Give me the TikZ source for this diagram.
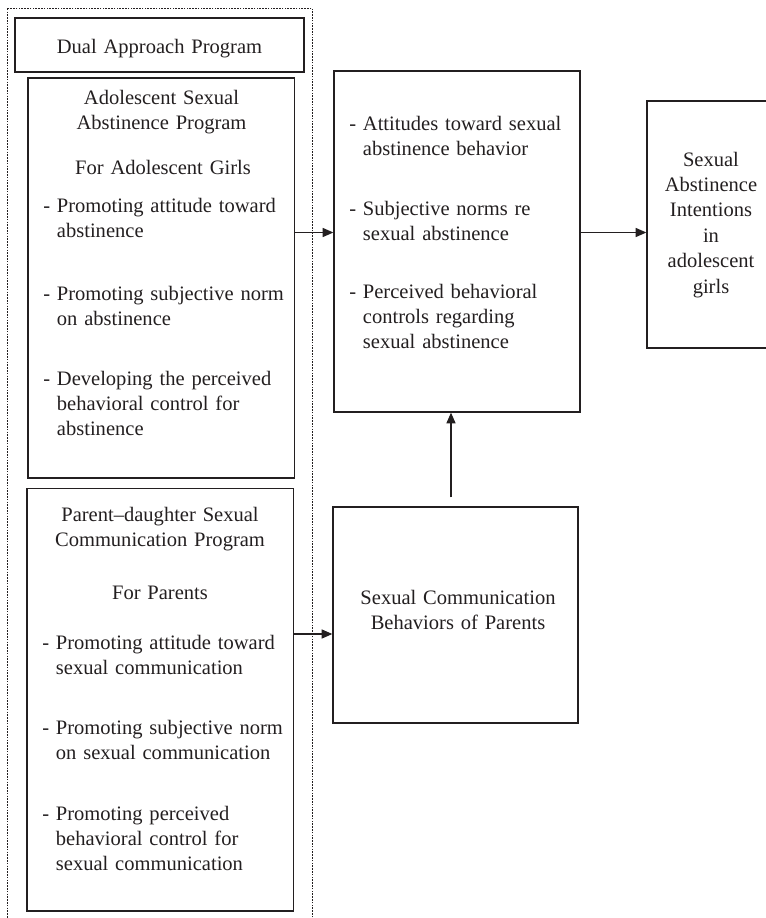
\documentclass[tikz,border=0pt]{standalone}
\usepackage{fontspec}
\setmainfont{Liberation Serif}
\usetikzlibrary{arrows.meta,fit}
\definecolor{ink}{RGB}{35,31,32}
\newcommand\diafont{\fontsize{15.4pt}{19.1pt}\selectfont}
\newcommand\ind{\hphantom{- }}
\begin{document}
\begin{tikzpicture}[x=0.75pt,y=-0.75pt,
  box/.style={draw=ink,line width=1pt,rectangle,inner sep=0pt},
  arr/.style={draw=ink,line width=0.8pt,-{Triangle[length=8pt,width=6.8pt]}},
  tl/.style={font=\diafont,text=ink,inner sep=0pt,text width=260pt,align=left,anchor=base west},
  tc/.style={font=\diafont,text=ink,inner sep=0pt,text width=200pt,align=center,anchor=base},
  dots/.style={draw=ink,line width=0.5pt,dash pattern=on 1.2pt off 0.9pt}]
\useasboundingbox[fill=white] (0,0) rectangle (765,918);

% outer dotted container (open at bottom edge of the picture)
\node[dots,rectangle,inner sep=0pt,fit={(7,8) (312,940)}] (outer) {};

% boxes
\node[box,fit={(15,18) (304,72)}] (dual) {};
\node[box,fit={(28,78) (294.5,478)}] (adol) {};
\node[box,fit={(27,488.5) (293.5,911)}] (par) {};
\node[box,fit={(334,71) (580,412)}] (mid) {};
\node[box,fit={(647,101) (780,348)}] (intent) {};
\node[box,fit={(333,507) (578,723)}] (beh) {};

% texts
\node[tc] (tdual) at (159.5,53) {Dual Approach Program};
\node[tc] (tadol) at (161.5,104) {Adolescent Sexual\\Abstinence Program};
\node[tc] (tgirls) at (163,174) {For Adolescent Girls};
\node[tl] (a1) at (43,212) {- Promoting attitude toward\\\ind abstinence};
\node[tl] (a2) at (43,300) {- Promoting subjective norm\\\ind on abstinence};
\node[tl] (a3) at (43,385) {- Developing the perceived\\\ind behavioral control for\\\ind abstinence};

\node[tl] (m1) at (349,130) {- Attitudes toward sexual\\\ind abstinence behavior};
\node[tl] (m2) at (349,215) {- Subjective norms re\\\ind sexual abstinence};
\node[tl] (m3) at (349,298) {- Perceived behavioral\\\ind controls regarding\\\ind sexual abstinence};

\node[tc] (ti) at (711,166) {Sexual\\Abstinence\\Intentions\\in\\adolescent\\girls};

\node[tc] (tb) at (458,604) {Sexual Communication\\Behaviors of Parents};

\node[tc] (tpar) at (160,521) {Parent–daughter Sexual\\Communication Program};
\node[tc] (tfp) at (160,599) {For Parents};
\node[tl] (p1) at (42,649) {- Promoting attitude toward\\\ind sexual communication};
\node[tl] (p2) at (42,734) {- Promoting subjective norm\\\ind on sexual communication};
\node[tl] (p3) at (42,820) {- Promoting perceived\\\ind behavioral control for\\\ind sexual communication};

% connectors
\coordinate (ya) at (0,232.5);
\coordinate (yb) at (0,634);
\coordinate (xv) at (451,0);
\draw[arr] (adol.east |- ya) -- (mid.west |- ya);
\draw[arr] (mid.east |- ya) -- (intent.west |- ya);
\draw[arr] (par.east |- yb) -- (beh.west |- yb);
\draw[arr,shorten <=6.75pt] (beh.north -| xv) -- (mid.south -| xv);
\end{tikzpicture}
\end{document}
